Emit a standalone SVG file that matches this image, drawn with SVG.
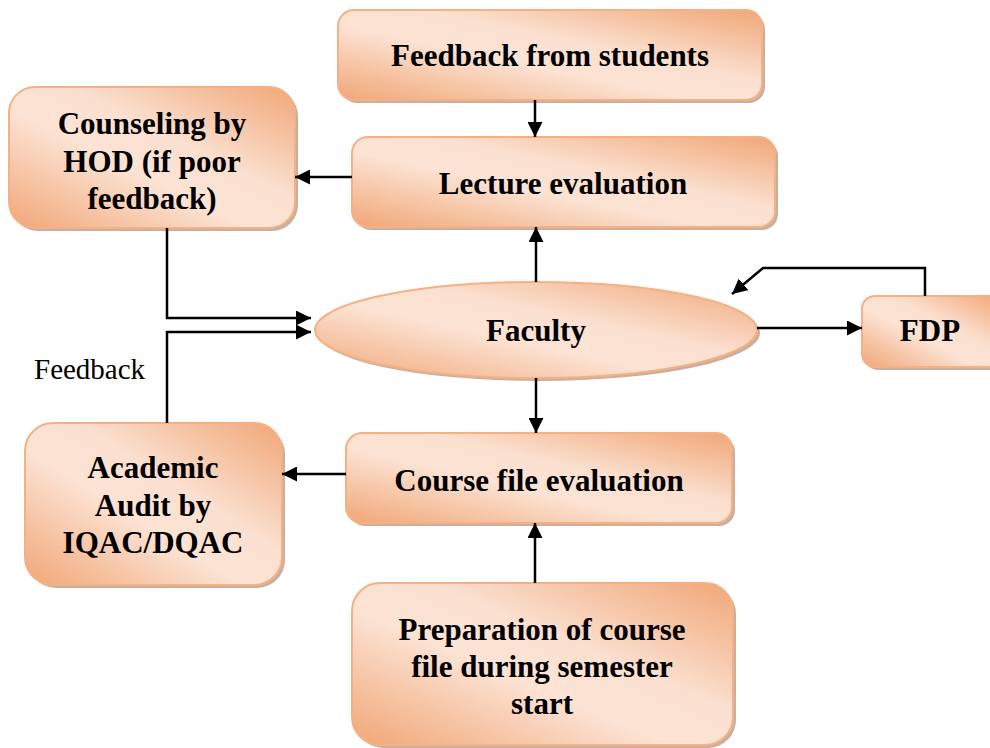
<svg xmlns="http://www.w3.org/2000/svg" width="990" height="748" viewBox="0 0 990 748">
<style>
.box{fill:url(#g);stroke:#F4B183;stroke-width:2}
.sh{fill:#B89480;opacity:0.75}
.t{font-weight:bold;font-size:31px;fill:#000;text-anchor:middle}
.lbl{font-size:29px;fill:#000}
.c{fill:none;stroke:#000;stroke-width:2.5}
</style>
<defs>
<linearGradient id="g" x1="0" y1="1" x2="1" y2="0">
<stop offset="0" stop-color="#F1A676"/>
<stop offset="0.42" stop-color="#FCE3D4"/>
<stop offset="0.6" stop-color="#FBE0D0"/>
<stop offset="1" stop-color="#F1A676"/>
</linearGradient>
<marker id="a" viewBox="0 0 10 10" refX="10" refY="5" markerWidth="6" markerHeight="6" orient="auto" markerUnits="strokeWidth">
<path d="M0,0 L10,5 L0,10 z" fill="#000"/>
</marker>
</defs>

<g font-family="Liberation Serif, DejaVu Serif, serif">
<g id="n-feedback">
<rect class="sh" x="341" y="13" width="424" height="90" rx="16"/>
<rect class="box" x="338" y="10" width="424" height="90" rx="16"/>
<text class="t" x="550" y="66">Feedback from students</text>
</g>

<g id="n-lecture">
<rect class="sh" x="355" y="140" width="423" height="90" rx="16"/>
<rect class="box" x="352" y="137" width="423" height="90" rx="16"/>
<text class="t" x="563" y="194">Lecture evaluation</text>
</g>

<g id="n-counseling">
<rect class="sh" x="12" y="90" width="286" height="141" rx="26"/>
<rect class="box" x="9" y="87" width="286" height="141" rx="26"/>
<text class="t" x="152" y="134">Counseling by</text>
<text class="t" x="152" y="172">HOD (if poor</text>
<text class="t" x="152" y="209">feedback)</text>
</g>

<g id="n-faculty">
<ellipse class="sh" cx="539" cy="333" rx="221" ry="48"/>
<ellipse class="box" cx="536" cy="330" rx="221" ry="48"/>
<text class="t" x="536" y="341">Faculty</text>
</g>

<g id="n-fdp">
<rect class="sh" x="865" y="299" width="140" height="71" rx="13"/>
<rect class="box" x="862" y="296" width="140" height="71" rx="13"/>
<text class="t" x="930" y="341">FDP</text>
</g>

<g id="n-audit">
<rect class="sh" x="28" y="426" width="257" height="162" rx="28"/>
<rect class="box" x="25" y="423" width="257" height="162" rx="28"/>
<text class="t" x="153" y="478">Academic</text>
<text class="t" x="153" y="516">Audit by</text>
<text class="t" x="153" y="553">IQAC/DQAC</text>
</g>

<g id="n-course">
<rect class="sh" x="349" y="436" width="386" height="90" rx="16"/>
<rect class="box" x="346" y="433" width="386" height="90" rx="16"/>
<text class="t" x="539" y="491">Course file evaluation</text>
</g>

<g id="n-prep">
<rect class="sh" x="355" y="586" width="381" height="162" rx="28"/>
<rect class="box" x="352" y="583" width="381" height="162" rx="28"/>
<text class="t" x="542" y="640">Preparation of course</text>
<text class="t" x="542" y="677">file during semester</text>
<text class="t" x="542" y="714">start</text>
</g>

<g id="connectors">
<line class="c" x1="535" y1="100" x2="535" y2="137" marker-end="url(#a)"/>
<line class="c" x1="352" y1="177" x2="295" y2="177" marker-end="url(#a)"/>
<line class="c" x1="536" y1="282" x2="536" y2="227" marker-end="url(#a)"/>
<line class="c" x1="536" y1="378" x2="536" y2="433" marker-end="url(#a)"/>
<line class="c" x1="535" y1="583" x2="535" y2="523" marker-end="url(#a)"/>
<line class="c" x1="346" y1="474" x2="282" y2="474" marker-end="url(#a)"/>
<line class="c" x1="757" y1="328" x2="862" y2="328" marker-end="url(#a)"/>
<polyline class="c" points="925,296 925,268 763,268 732,294" marker-end="url(#a)"/>
<polyline class="c" points="167,228 167,318 311,318" marker-end="url(#a)"/>
<polyline class="c" points="167,423 167,332 311,332" marker-end="url(#a)"/>
<text class="lbl" x="34" y="379">Feedback</text>
</g>
</g>
</svg>
